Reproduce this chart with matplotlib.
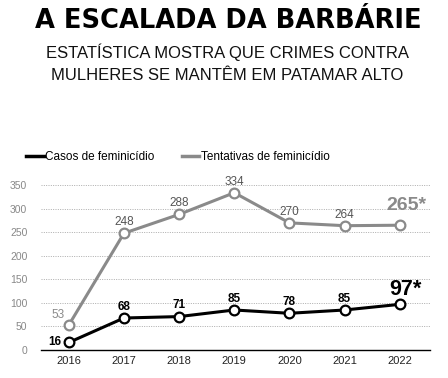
import matplotlib
matplotlib.use("Agg")
import matplotlib.pyplot as plt
from matplotlib.lines import Line2D

# data
years = [2016, 2017, 2018, 2019, 2020, 2021, 2022]
casos = [16, 68, 71, 85, 78, 85, 97]
tentativas = [53, 248, 288, 334, 270, 264, 265]
yticks = [0, 50, 100, 150, 200, 250, 300, 350]

GRAY = "#8a8a8a"
BLACK = "#000000"

plt.rcParams["font.family"] = ["Liberation Sans", "DejaVu Sans"]

fig = plt.figure(figsize=(4.48, 3.78), dpi=100)
fig.patch.set_facecolor("white")

# titles
fig.text(0.51, 0.945, "A ESCALADA DA BARBÁRIE", ha="center", va="center",
         fontsize=18.5, fontweight="heavy", family=["DejaVu Sans"])
fig.text(0.508, 0.862, "ESTATÍSTICA MOSTRA QUE CRIMES CONTRA", ha="center",
         va="center", fontsize=12, color="#111111")
fig.text(0.508, 0.801, "MULHERES SE MANTÊM EM PATAMAR ALTO", ha="center",
         va="center", fontsize=12, color="#111111")

ax = fig.add_axes([0.092, 0.074, 0.868, 0.461])
ax.set_xlim(2015.5, 2022.55)
ax.set_ylim(0, 370)

for y in yticks[1:]:
    ax.axhline(y, color="#a0a0a0", lw=0.6, ls=(0, (1.2, 1.6)), zorder=0)

ax.plot(years, tentativas, color=GRAY, lw=2.2, marker="o", ms=7,
        mfc="white", mec=GRAY, mew=1.6, zorder=3, clip_on=False)
ax.plot(years, casos, color=BLACK, lw=2.2, marker="o", ms=7,
        mfc="white", mec=BLACK, mew=1.6, zorder=4, clip_on=False)

# value labels
for i, (yr, v) in enumerate(zip(years, tentativas)):
    if i == 0:
        ax.annotate(str(v), (yr, v), xytext=(-8, 7), textcoords="offset points",
                    ha="center", va="center", fontsize=8.5, color=GRAY)
    elif i == len(years) - 1:
        ax.annotate(f"{v}*", (yr, v), xytext=(5, 14), textcoords="offset points",
                    ha="center", va="center", fontsize=14, fontweight="bold",
                    color=GRAY)
    else:
        ax.annotate(str(v), (yr, v), xytext=(0, 8), textcoords="offset points",
                    ha="center", va="center", fontsize=8.5, color="#555555")

for i, (yr, v) in enumerate(zip(years, casos)):
    if i == 0:
        ax.annotate(str(v), (yr, v), xytext=(-10, 0.5), textcoords="offset points",
                    ha="center", va="center", fontsize=8.5, fontweight="bold")
    elif i == len(years) - 1:
        ax.annotate(f"{v}*", (yr, v), xytext=(4, 11), textcoords="offset points",
                    ha="center", va="center", fontsize=15.5, fontweight="bold")
    else:
        ax.annotate(str(v), (yr, v), xytext=(0, 8), textcoords="offset points",
                    ha="center", va="center", fontsize=8.5, fontweight="bold")

for s in ["top", "right", "left"]:
    ax.spines[s].set_visible(False)
ax.spines["bottom"].set_color(BLACK)
ax.spines["bottom"].set_linewidth(1.0)

ax.set_yticks(yticks)
ax.set_yticklabels([str(t) for t in yticks], fontsize=7.5, color="#888888")
ax.set_xticks(years)
ax.set_xticklabels([str(y) for y in years], fontsize=8, color="#222222")
ax.tick_params(axis="both", length=0)
ax.tick_params(axis="y", pad=10)
ax.tick_params(axis="x", pad=4)

handles = [Line2D([0], [0], color=BLACK, lw=2.5),
           Line2D([0], [0], color=GRAY, lw=2.5)]
fig.legend(handles, ["Casos de feminicídio", "Tentativas de feminicídio"],
           loc="center left", bbox_to_anchor=(0.035, 0.585), ncol=2,
           frameon=False, fontsize=8.5, handlelength=1.5, handletextpad=0.1,
           columnspacing=2.3)

fig.savefig("out.png", dpi=100, facecolor="white")
